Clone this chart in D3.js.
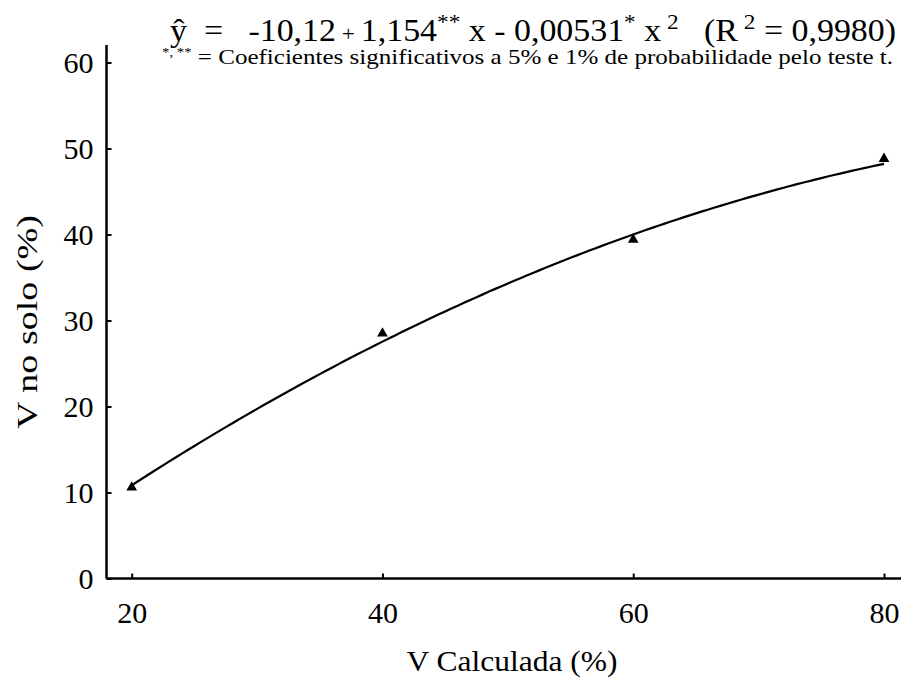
<!DOCTYPE html>
<html>
<head>
<meta charset="utf-8">
<script src="https://cdn.jsdelivr.net/npm/d3@7"></script>
<style>
  body { margin: 0; background: #fff; }
  text { font-family: "Liberation Serif", "Times New Roman", serif; fill: #000; }
</style>
</head>
<body>
<script>
// observed means
const vCalc = [20, 40, 60, 80];
const vSolo = [10.6, 28.5, 39.4, 48.8];
// fitted equation printed on the chart: y = b0 + b1 x + b2 x^2
const coef = [-10.12, 1.154, -0.00531];
const xTicks = [20, 40, 60, 80];
const yTicks = [0, 10, 20, 30, 40, 50, 60];

const width = 903, height = 679;
const svg = d3.select("body").append("svg")
  .attr("width", width).attr("height", height);

const x = d3.scaleLinear().domain([20, 80]).range([131.7, 884]);
const y = d3.scaleLinear().domain([0, 60]).range([578.5, 62.5]);
const x0 = 106.5;

// axes, ticks pointing inward
const yAxis = svg.append("g").attr("transform", `translate(${x0},0)`)
  .call(d3.axisLeft(y).tickValues(yTicks).tickSizeInner(-5).tickSizeOuter(0).tickPadding(13));
yAxis.select(".domain").attr("d", `M0,45V${y(0)}`);
const xAxis = svg.append("g").attr("transform", `translate(0,${y(0)})`)
  .call(d3.axisBottom(x).tickValues(xTicks).tickSizeInner(-5).tickSizeOuter(0).tickPadding(23));
xAxis.select(".domain").attr("d", `M${x0},0H901`);

svg.selectAll(".domain").attr("stroke", "#000").attr("stroke-width", 2.5);
svg.selectAll(".tick line").attr("stroke", "#000").attr("stroke-width", 2);
[xAxis, yAxis].forEach(a => a.attr("font-family", "Liberation Serif").attr("font-size", 30));
yAxis.selectAll(".tick text").attr("dy", "0.34em");

// fitted curve
const xs = d3.range(20, 80.01, 0.5);
const line = d3.line()
  .x(d => x(d))
  .y(d => y(coef[0] + coef[1] * d + coef[2] * d * d));
svg.append("path").datum(xs)
  .attr("d", line).attr("fill", "none")
  .attr("stroke", "#000").attr("stroke-width", 2.2);

// observed points
svg.append("g").selectAll("path")
  .data(vCalc.map((v, i) => [v, vSolo[i]]))
  .join("path")
  .attr("d", d3.symbol(d3.symbolTriangle, 50))
  .attr("transform", d => `translate(${x(d[0])},${y(d[1])})`)
  .attr("fill", "#000");

// axis titles
svg.append("text").attr("x", 512).attr("y", 671)
  .attr("text-anchor", "middle").attr("font-size", 30)
  .attr("textLength", 211).attr("lengthAdjust", "spacingAndGlyphs")
  .text("V Calculada (%)");
svg.append("text").attr("transform", "translate(37,322) rotate(-90)")
  .attr("text-anchor", "middle").attr("font-size", 30)
  .attr("textLength", 214).attr("lengthAdjust", "spacingAndGlyphs")
  .text("V no solo (%)");

// equation
const eq = svg.append("text").attr("x", 170).attr("y", 41).attr("font-size", 32)
  .style("white-space", "pre");
const parts = [
  ["ŷ  =   -10,12", 0], [" + ", 0, 22], ["1,154", 0], ["**", 1], [" x - 0,00531", 0],
  ["*", 1], [" x", 0], [" 2", 1], ["   (R", 0], [" 2", 1], [" = 0,9980)", 0]
];
let prevSup = false;
parts.forEach(p => {
  const t = eq.append("tspan").text(p[0]);
  if (p[2]) t.attr("font-size", p[2]);
  if (p[1]) t.attr("font-size", 22);
  if (p[1] && !prevSup) t.attr("dy", -12);
  if (!p[1] && prevSup) t.attr("dy", 12);
  prevSup = !!p[1];
});
eq.attr("textLength", 726).attr("lengthAdjust", "spacingAndGlyphs");

// footnote
const fn = svg.append("text").attr("x", 162).attr("y", 64).attr("font-size", 22)
  .style("white-space", "pre");
fn.append("tspan").attr("font-size", 13).attr("dy", -8).text("*");
fn.append("tspan").attr("font-size", 13).text(", **");
fn.append("tspan").attr("dy", 8).text(" = Coeficientes significativos a 5% e 1% de probabilidade pelo teste t.");
fn.attr("textLength", 731).attr("lengthAdjust", "spacingAndGlyphs");
</script>
</body>
</html>
